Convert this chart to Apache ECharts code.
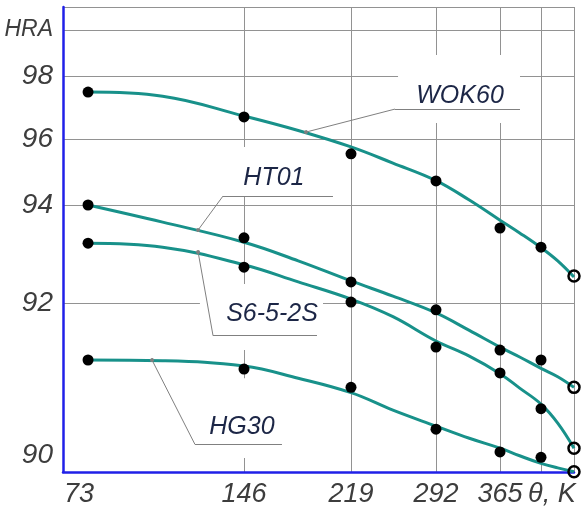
<!DOCTYPE html>
<html><head><meta charset="utf-8">
<script src="https://cdn.jsdelivr.net/npm/echarts@6/dist/echarts.min.js"></script>
<style>html,body{margin:0;padding:0;background:#fff}#c{width:584px;height:513px}</style>
</head><body><div id="c"></div>
<script>
// ---------- data (temperature in K, hardness in HRA) ----------
const tempK   = [77, 146, 219, 292, 365, 438, 511];
const wok60Pts = [97.49, 96.70, 95.55, 94.73, 93.53, 93.14, 92.55];
const ht01Pts  = [94.00, 93.33, 92.43, 91.91, 91.38, 91.25, 90.89];
const s6Pts    = [93.22, 92.73, 92.02, 91.42, 91.08, 90.61, 90.09];
const hg30Pts  = [91.25, 91.13, 90.89, 90.34, 90.04, 89.97, 89.78];

const curveK   = [77, 110, 146, 183, 219, 255, 292, 330, 365, 400, 438, 475, 511];
const wok60Fit = [97.49, 97.36, 96.73, 96.27, 95.76, 95.27, 94.74, 94.15, 93.69, 93.43, 93.13, 92.86, 92.53];
const ht01Fit  = [94.00, 93.65, 93.24, 92.86, 92.45, 92.14, 91.87, 91.64, 91.42, 91.29, 91.14, 91.03, 90.89];
const s6Fit    = [93.22, 93.14, 92.78, 92.43, 92.08, 91.82, 91.50, 91.30, 91.07, 90.88, 90.67, 90.42, 90.09];
const hg30Fit  = [91.25, 91.24, 91.17, 91.01, 90.82, 90.59, 90.38, 90.22, 90.09, 89.99, 89.89, 89.83, 89.78];

const seriesNames = ['WOK60', 'HT01', 'S6-5-2S', 'HG30'];

// axis tick labels
const xTickLabels = ['73', '146', '219', '292', '365', 'θ, K'];
const xTickK      = [73, 146, 219, 292, 365, 462];
const xGridK      = [146, 219, 292, 365, 438, 511];
const yTickLabels = ['90', '92', '94', '96', '98', 'HRA'];
const yTickH      = [90, 92, 94, 96, 98, 99.46];
const yGridH      = [92, 94, 96, 98, 99.46];

// annotation anchors (in K / HRA)
const labelAt    = [[319.4, 97.37], [166.4, 94.82], [165.1, 91.86], [145.1, 90.37]];
const underlineK = [[256.8, 400.6], [136.7, 206.7], [132.3, 195.8], [124.3, 171.9]];
const underlineH = [96.95, 94.27, 91.57, 90.14];
const leaderFrom = [[188.3, 96.22], [125.7, 93.49], [125.7, 93.04], [105.3, 91.25]];
const boxK       = [[259.4, 400.6], [136.3, 211.5], [126.5, 199.9], [126.5, 177.4]];
const boxH       = [[96.51, 98.67], [94.27, 95.76], [91.38, 92.39], [89.96, 91.01]];

// ---------- non-uniform axis scales (piecewise linear, as drawn in the original) ----------
const xKnotK = [73, 146, 219, 292, 365, 438, 511];
const xKnotU = [16, 181, 288, 373, 437, 478, 511];
const yKnotH = [90, 92, 94, 96, 98];
const yKnotV = [17, 169, 267, 333, 396];
function warp(v, ks, us) {
  let i = 0;
  if (v <= ks[0]) i = 0;
  else if (v >= ks[ks.length - 1]) i = ks.length - 2;
  else { while (v > ks[i + 1]) i++; }
  return us[i] + (v - ks[i]) * (us[i + 1] - us[i]) / (ks[i + 1] - ks[i]);
}
const fx = k => warp(k, xKnotK, xKnotU);
const fy = h => warp(h, yKnotH, yKnotV);

const X_MAX = fx(511), Y_MAX = 465;
const numFont = "'Liberation Sans',Arial,sans-serif";
const txtFont = "'Liberation Sans',Arial,sans-serif";
const teal = '#18918a';

function lookup(val, ks, texts, f) {
  for (let i = 0; i < ks.length; i++) if (Math.abs(f(ks[i]) - val) < 0.01) return texts[i];
  return '';
}

const fits = [wok60Fit, ht01Fit, s6Fit, hg30Fit];
const pts = [wok60Pts, ht01Pts, s6Pts, hg30Pts];

const series = [];
fits.forEach((fit, si) => {
  series.push({
    name: seriesNames[si] + ' fit', type: 'line', smooth: 0.4, showSymbol: false, z: 3, silent: true,
    lineStyle: { color: teal, width: 3 },
    data: curveK.map((k, i) => [fx(k), fy(fit[i])])
  });
});
pts.forEach((p, si) => {
  series.push({
    name: seriesNames[si], type: 'scatter', z: 5, silent: true, symbolSize: 11,
    itemStyle: { color: '#000', opacity: 1 },
    data: tempK.map((k, i) => {
      const d = { value: [fx(k), fy(p[i])] };
      if (i === tempK.length - 1) d.itemStyle = { color: 'rgba(0,0,0,0)', borderColor: '#000', borderWidth: 2.5, opacity: 1 };
      return d;
    })
  });
});

// annotations: white label boxes, underlines, leader lines and text
const lineData = [];
seriesNames.forEach((n, i) => {
  lineData.push([{ coord: [fx(underlineK[i][0]), fy(underlineH[i])] }, { coord: [fx(underlineK[i][1]), fy(underlineH[i])] }]);
  lineData.push([{ coord: [fx(leaderFrom[i][0]), fy(leaderFrom[i][1])], symbol: 'circle', symbolSize: 4 },
                 { coord: [fx(underlineK[i][0]), fy(underlineH[i])] }]);
});
series.push({
  name: 'annotations', type: 'line', data: [], z: 1, silent: true,
  markArea: {
    silent: true, itemStyle: { color: '#fff' },
    data: seriesNames.map((n, i) => [{ coord: [fx(boxK[i][0]), fy(boxH[i][0])] }, { coord: [fx(boxK[i][1]), fy(boxH[i][1])] }])
  },
  markLine: {
    silent: true, symbol: ['none', 'none'], symbolSize: 4, animation: false,
    lineStyle: { color: '#808080', width: 1, type: 'solid' }, itemStyle: { color: '#333' },
    label: { show: false }, emphasis: { disabled: true },
    data: lineData
  },
  markPoint: {
    silent: true, symbol: 'circle', symbolSize: 1, itemStyle: { color: 'rgba(0,0,0,0)' },
    label: { show: true, position: 'inside', fontFamily: txtFont, fontStyle: 'italic', fontSize: 25, color: '#1c2646' },
    data: seriesNames.map((n, i) => ({ name: n, coord: [fx(labelAt[i][0]), fy(labelAt[i][1])], label: { formatter: n } }))
  }
});

const numRich = (size) => ({ fontFamily: numFont, fontStyle: 'italic', fontSize: size, color: '#3d3d3d' });

const chart = echarts.init(document.getElementById('c'), null, { renderer: 'canvas' });
chart.setOption({
  animation: false,
  backgroundColor: '#fff',
  grid: { left: 63, right: 10, top: 7, bottom: 41, containLabel: false },
  xAxis: {
    type: 'value', min: 0, max: X_MAX,
    axisLine: { show: true, onZero: false, lineStyle: { color: '#2020e8', width: 2.5 } },
    axisTick: { show: false, customValues: xGridK.map(fx) },
    splitLine: { show: true, lineStyle: { color: '#929292', width: 1 } },
    axisLabel: {
      customValues: xTickK.map(fx), margin: 9,
      fontFamily: numFont, fontStyle: 'italic', fontSize: 27, color: '#3d3d3d',
      formatter: v => '{n|' + lookup(v, xTickK, xTickLabels, fx) + '}',
      rich: { n: numRich(27) }
    }
  },
  yAxis: {
    type: 'value', min: 0, max: Y_MAX,
    axisLine: { show: true, onZero: false, lineStyle: { color: '#2020e8', width: 2.5 } },
    axisTick: { show: false, customValues: yGridH.map(fy).concat([Y_MAX]) },
    splitLine: { show: true, lineStyle: { color: '#929292', width: 1 } },
    axisLabel: {
      customValues: yTickH.map(fy), margin: 10,
      fontFamily: numFont, fontStyle: 'italic', fontSize: 28, color: '#3d3d3d',
      formatter: v => { const t = lookup(v, yTickH, yTickLabels, fy); return t === 'HRA' ? '{h|HRA}' : '{n|' + t + '}'; },
      rich: { n: numRich(28), h: numRich(23) }
    }
  },
  series: series
});
</script></body></html>
